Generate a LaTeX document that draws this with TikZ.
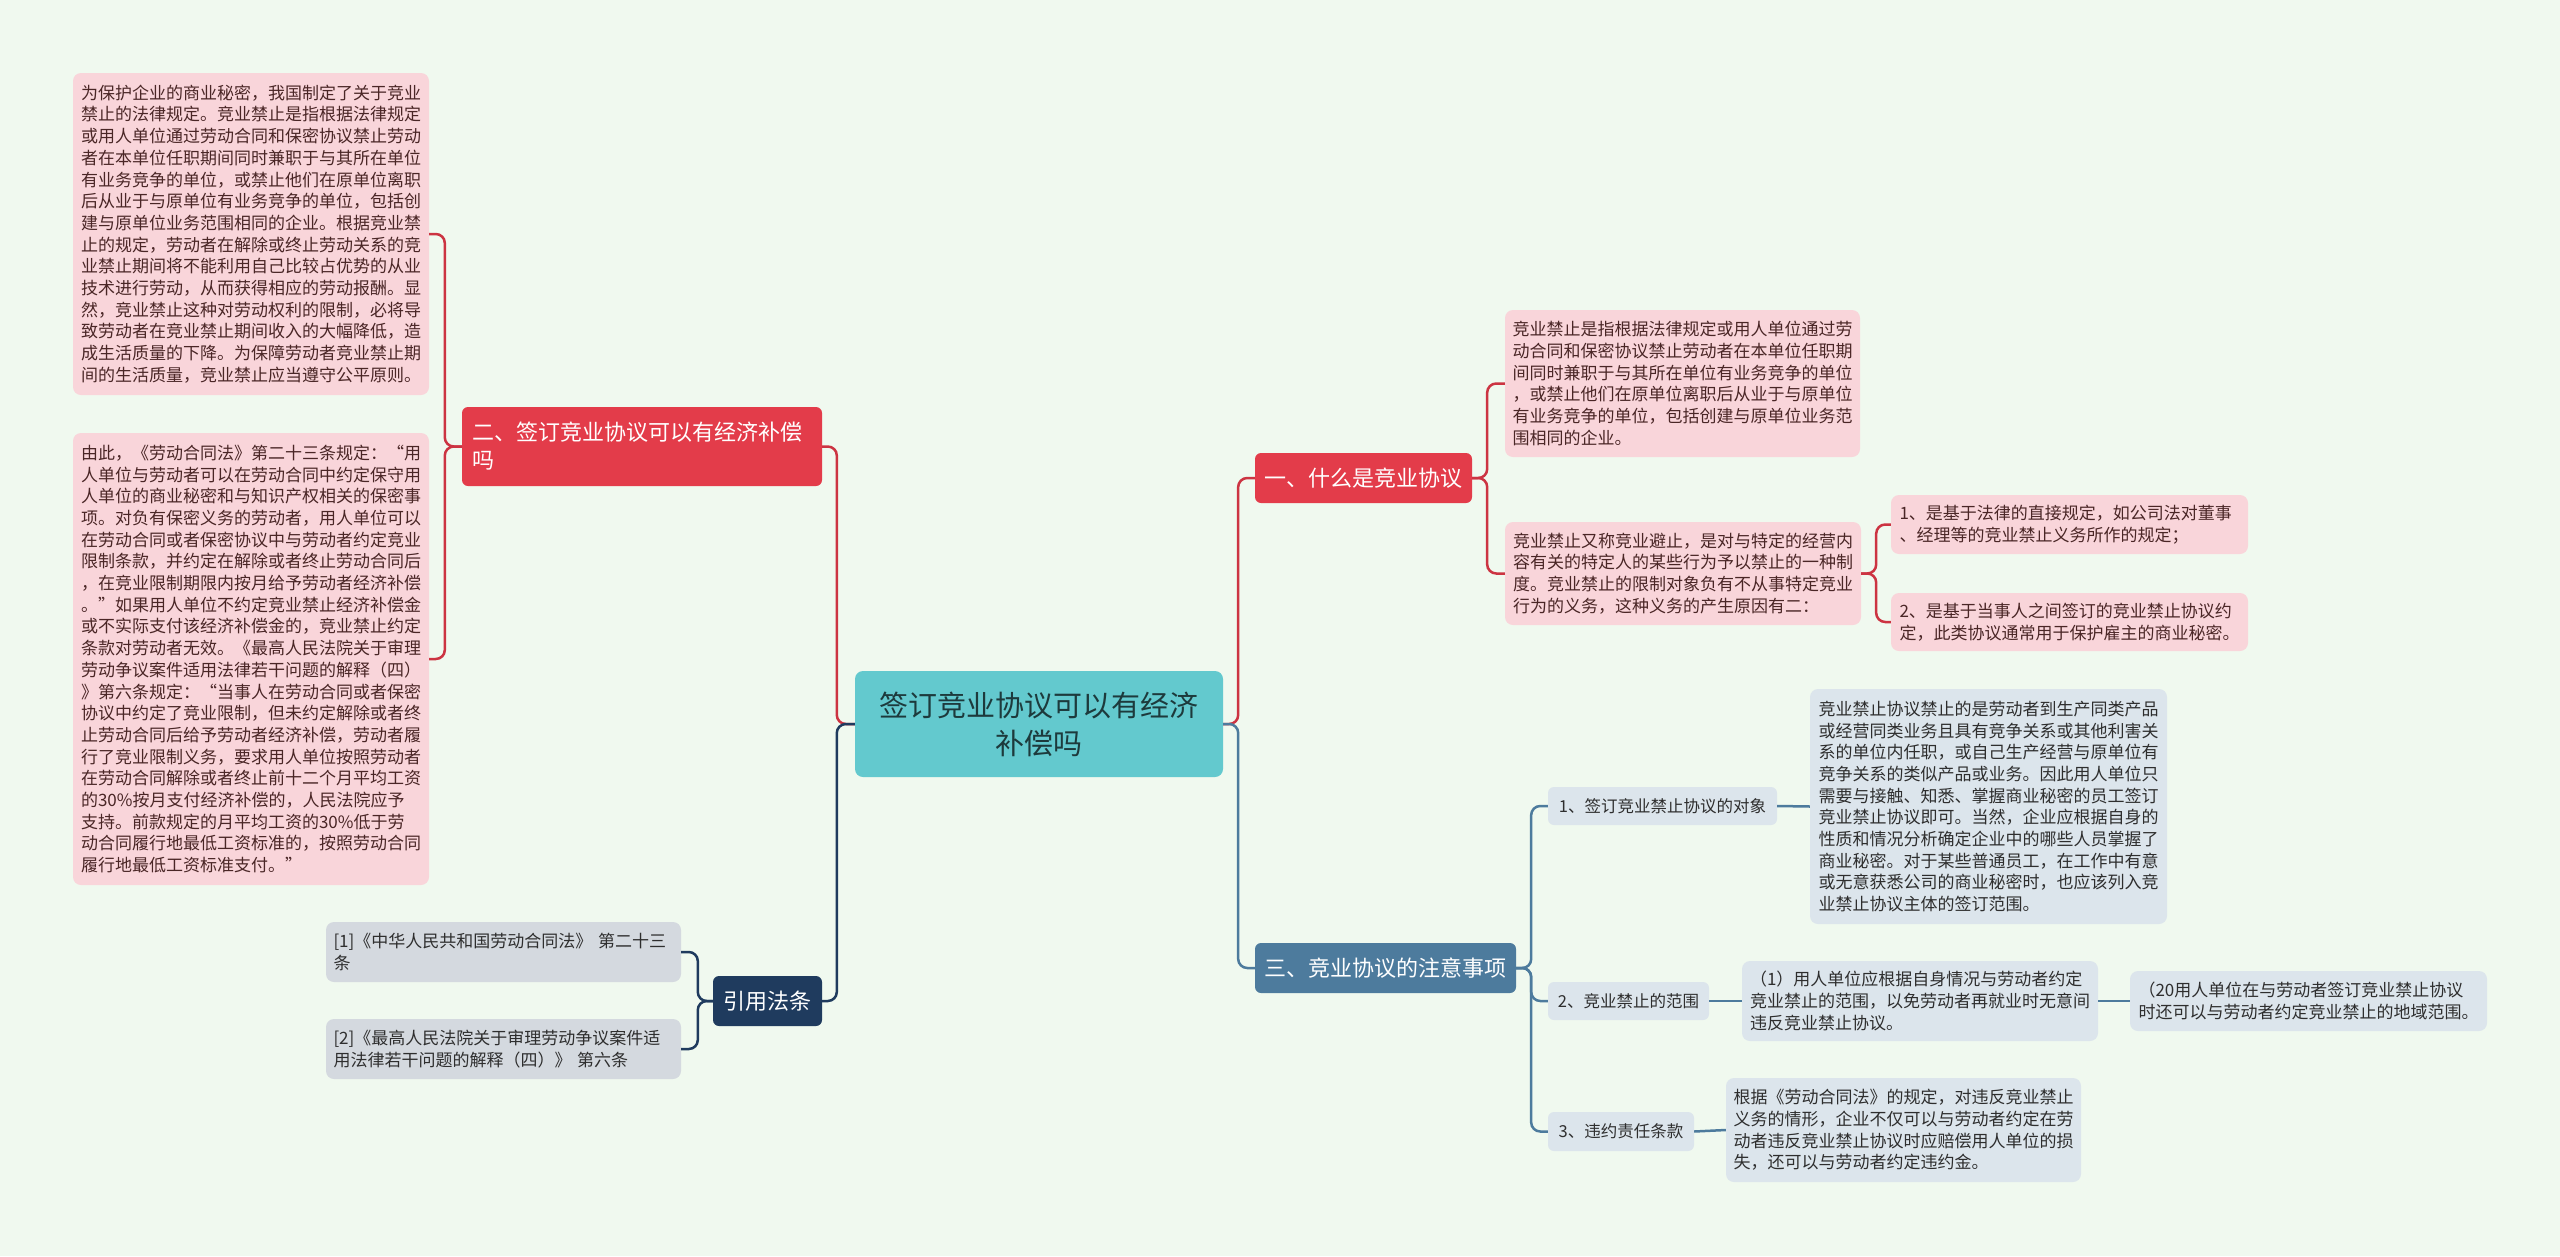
\documentclass[tikz,border=0pt]{standalone}
\usepackage{fontspec}
\setmainfont{Noto Sans CJK SC}
\definecolor{bgc}{HTML}{F0F9EF}
\definecolor{tealc}{HTML}{63C9CE}
\definecolor{roottxt}{HTML}{1D3A3C}
\definecolor{redc}{HTML}{E33C4A}
\definecolor{redl}{HTML}{CC3442}
\definecolor{pinkc}{HTML}{F9D5DA}
\definecolor{pinktxt}{HTML}{4A2626}
\definecolor{navyc}{HTML}{1F3B5E}
\definecolor{greyc}{HTML}{D4D9DF}
\definecolor{steelc}{HTML}{4D7B9D}
\definecolor{lbluec}{HTML}{DCE5EC}
\definecolor{darktxt}{HTML}{2E2E2E}
\tikzset{
  every node/.style={inner sep=0pt},
  basebox/.style={rounded corners=6pt, anchor=center},
  pinkbox/.style={basebox, rounded corners=8pt, fill=pinkc, text=pinktxt, align=left, text width=340pt, font=\fontsize{17}{21.7}\selectfont},
  bluebox/.style={basebox, rounded corners=8pt, fill=lbluec, text=darktxt, align=left, text width=340pt, font=\fontsize{17}{21.7}\selectfont},
  greybox/.style={basebox, rounded corners=8pt, fill=greyc, text=darktxt, align=left, text width=340pt, font=\fontsize{17}{21.7}\selectfont},
  subbox/.style={basebox, rounded corners=6pt, fill=lbluec, text=darktxt, align=center, font=\fontsize{16.5}{20}\selectfont},
  redhead/.style={basebox, fill=redc, text=white, font=\fontsize{22}{28}\selectfont},
  steelhead/.style={basebox, fill=steelc, text=white, font=\fontsize{22}{28}\selectfont},
  navyhead/.style={basebox, fill=navyc, text=white, font=\fontsize{22}{28}\selectfont},
  rootbox/.style={basebox, rounded corners=8pt, fill=tealc, text=roottxt, align=center, font=\fontsize{29}{38}\selectfont},
  redlink/.style={draw=redl, line width=2.5pt, rounded corners=9pt},
  navylink/.style={draw=navyc, line width=2.5pt, rounded corners=9pt},
  steellink/.style={draw=steelc, line width=2.5pt, rounded corners=9pt},
}
\begin{document}
\begin{tikzpicture}[x=1pt,y=-1pt]
\useasboundingbox (0,0) rectangle (2560,1256);
\fill[bgc] (0,0) rectangle (2560,1256);

% root
\node[rootbox, minimum width=368pt, minimum height=106pt] (root) at (1039,724) {签订竞业协议可以有经济\\补偿吗};

% left branch 二
\node[redhead, minimum width=360pt, minimum height=79pt, align=left, text width=340pt] (n2) at (642,446.5) {二、签订竞业协议可以有经济补偿\\吗};
\node[pinkbox, minimum width=356pt, minimum height=322pt] (l1) at (251,234) {为保护企业的商业秘密，我国制定了关于竞业\\禁止的法律规定。竞业禁止是指根据法律规定\\或用人单位通过劳动合同和保密协议禁止劳动\\者在本单位任职期间同时兼职于与其所在单位\\有业务竞争的单位，或禁止他们在原单位离职\\后从业于与原单位有业务竞争的单位，包括创\\建与原单位业务范围相同的企业。根据竞业禁\\止的规定，劳动者在解除或终止劳动关系的竞\\业禁止期间将不能利用自己比较占优势的从业\\技术进行劳动，从而获得相应的劳动报酬。显\\然，竞业禁止这种对劳动权利的限制，必将导\\致劳动者在竞业禁止期间收入的大幅降低，造\\成生活质量的下降。为保障劳动者竞业禁止期\\间的生活质量，竞业禁止应当遵守公平原则。};
\node[pinkbox, minimum width=356pt, minimum height=452pt] (l2) at (251,659) {由此，《劳动合同法》第二十三条规定：“用\\人单位与劳动者可以在劳动合同中约定保守用\\人单位的商业秘密和与知识产权相关的保密事\\项。对负有保密义务的劳动者，用人单位可以\\在劳动合同或者保密协议中与劳动者约定竞业\\限制条款，并约定在解除或者终止劳动合同后\\，在竞业限制期限内按月给予劳动者经济补偿\\。”如果用人单位不约定竞业禁止经济补偿金\\或不实际支付该经济补偿金的，竞业禁止约定\\条款对劳动者无效。《最高人民法院关于审理\\劳动争议案件适用法律若干问题的解释（四）\\》第六条规定：“当事人在劳动合同或者保密\\协议中约定了竞业限制，但未约定解除或者终\\止劳动合同后给予劳动者经济补偿，劳动者履\\行了竞业限制义务，要求用人单位按照劳动者\\在劳动合同解除或者终止前十二个月平均工资\\的30\%按月支付经济补偿的，人民法院应予\\支持。前款规定的月平均工资的30\%低于劳\\动合同履行地最低工资标准的，按照劳动合同\\履行地最低工资标准支付。”};

% left branch 引用法条
\node[navyhead, minimum width=109pt, minimum height=50pt] (ref) at (767.5,1001) {引用法条};
\node[greybox, minimum width=355pt, minimum height=60pt] (r1) at (503.5,952) {[1]《中华人民共和国劳动合同法》 第二十三\\条};
\node[greybox, minimum width=355pt, minimum height=60pt] (r2) at (503.5,1049) {[2]《最高人民法院关于审理劳动争议案件适\\用法律若干问题的解释（四）》 第六条};

% right branch 一
\node[redhead, minimum width=217pt, minimum height=50pt] (n1) at (1363.5,478) {一、什么是竞业协议};
\node[pinkbox, minimum width=355pt, minimum height=147pt] (A) at (1682.5,383.5) {竞业禁止是指根据法律规定或用人单位通过劳\\动合同和保密协议禁止劳动者在本单位任职期\\间同时兼职于与其所在单位有业务竞争的单位\\，或禁止他们在原单位离职后从业于与原单位\\有业务竞争的单位，包括创建与原单位业务范\\围相同的企业。};
\node[pinkbox, minimum width=356pt, minimum height=103pt] (B) at (1683,573.5) {竞业禁止又称竞业避止，是对与特定的经营内\\容有关的特定人的某些行为予以禁止的一种制\\度。竞业禁止的限制对象负有不从事特定竞业\\行为的义务，这种义务的产生原因有二：};
\node[pinkbox, minimum width=357pt, minimum height=59pt] (C) at (2069.5,524.5) {1、是基于法律的直接规定，如公司法对董事\\、经理等的竞业禁止义务所作的规定；};
\node[pinkbox, minimum width=357pt, minimum height=58pt] (D) at (2069.5,622) {2、是基于当事人之间签订的竞业禁止协议约\\定，此类协议通常用于保护雇主的商业秘密。};

% right branch 三
\node[steelhead, minimum width=261pt, minimum height=50pt] (n3) at (1385.5,968) {三、竞业协议的注意事项};
\node[subbox, minimum width=229pt, minimum height=38pt] (s1) at (1662.5,806) {1、签订竞业禁止协议的对象};
\node[bluebox, minimum width=357pt, minimum height=235pt] (E) at (1988.5,806.5) {竞业禁止协议禁止的是劳动者到生产同类产品\\或经营同类业务且具有竞争关系或其他利害关\\系的单位内任职，或自己生产经营与原单位有\\竞争关系的类似产品或业务。因此用人单位只\\需要与接触、知悉、掌握商业秘密的员工签订\\竞业禁止协议即可。当然，企业应根据自身的\\性质和情况分析确定企业中的哪些人员掌握了\\商业秘密。对于某些普通员工，在工作中有意\\或无意获悉公司的商业秘密时，也应该列入竞\\业禁止协议主体的签订范围。};
\node[subbox, minimum width=161pt, minimum height=38pt] (s2) at (1628.5,1001) {2、竞业禁止的范围};
\node[bluebox, minimum width=356pt, minimum height=80pt] (F) at (1920,1001) {（1）用人单位应根据自身情况与劳动者约定\\竞业禁止的范围，以免劳动者再就业时无意间\\违反竞业禁止协议。};
\node[bluebox, minimum width=357pt, minimum height=60pt] (G) at (2308.5,1001) {（20用人单位在与劳动者签订竞业禁止协议\\时还可以与劳动者约定竞业禁止的地域范围。};
\node[subbox, minimum width=146pt, minimum height=39pt] (s3) at (1621,1131.5) {3、违约责任条款};
\node[bluebox, minimum width=355pt, minimum height=104pt] (H) at (1903.5,1130) {根据《劳动合同法》的规定，对违反竞业禁止\\义务的情形，企业不仅可以与劳动者约定在劳\\动者违反竞业禁止协议时应赔偿用人单位的损\\失，还可以与劳动者约定违约金。};

% connectors
\draw[redlink] (root.west) -- ++(-18,0) |- (n2.east);
\draw[navylink] (root.west) -- ++(-18,0) |- (ref.east);
\draw[redlink] (root.east) -- ++(15,0) |- (n1.west);
\draw[steellink] (root.east) -- ++(15,0) |- (n3.west);

\draw[redlink] (n2.west) -- ++(-17,0) |- (l1.east);
\draw[redlink] (n2.west) -- ++(-17,0) |- (l2.east);
\draw[navylink] (ref.west) -- ++(-15,0) |- (r1.east);
\draw[navylink] (ref.west) -- ++(-15,0) |- (r2.east);

\draw[redlink] (n1.east) -- ++(15,0) |- (A.west);
\draw[redlink] (n1.east) -- ++(15,0) |- (B.west);
\draw[redlink] (B.east) -- ++(15,0) |- (C.west);
\draw[redlink] (B.east) -- ++(15,0) |- (D.west);

\draw[steellink] (n3.east) -- ++(15,0) |- (s1.west);
\draw[steellink] (n3.east) -- ++(15,0) |- (s2.west);
\draw[steellink] (n3.east) -- ++(15,0) |- (s3.west);
\draw[steellink] (s1.east) -- (E.west);
\draw[steellink] (s2.east) -- (F.west);
\draw[steellink] (F.east) -- (G.west);
\draw[steellink] (s3.east) -- (H.west);
\end{tikzpicture}
\end{document}
